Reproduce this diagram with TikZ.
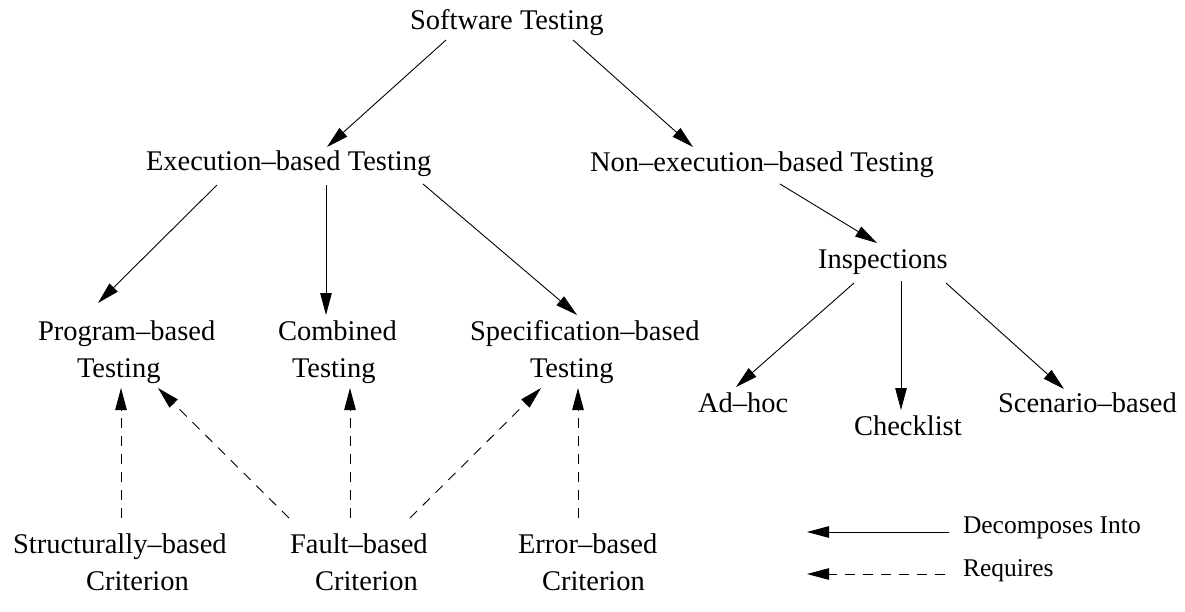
\documentclass[tikz,border=0pt]{standalone}
\usepackage{fontspec}
\setmainfont{Liberation Serif}
\usetikzlibrary{arrows.meta}

% two lines of text, the second indented by #1; baseline is that of the first line
\newcommand{\stackedtext}[3]{\vtop{\hbox{#2}\hbox{\hspace*{#1}#3}}}

\tikzset{
  label/.style={inner sep=0pt, outer sep=0pt, anchor=base west,
    font=\fontsize{28.5}{37}\selectfont},
  legendtext/.style={inner sep=0pt, outer sep=0pt, anchor=base west,
    font=\fontsize{25.5}{30}\selectfont},
  decomp/.style={line width=0.9pt, -{Triangle[length=22pt,width=11.5pt]}},
  requires/.style={decomp, dash pattern=on 10pt off 8pt},
}

\begin{document}
\begin{tikzpicture}[x=1pt, y=-1pt]
  \useasboundingbox (0,0) rectangle (1185,611);

  % hierarchy labels
  \node[label] (st)    at (410,29)  {Software Testing};
  \node[label] (ebt)   at (146,170) {Execution--based Testing};
  \node[label] (nebt)  at (590,171) {Non--execution--based Testing};
  \node[label] (insp)  at (818,268) {Inspections};
  \node[label] (pbt)   at (38,340)  {\stackedtext{39pt}{Program--based}{Testing}};
  \node[label] (comb)  at (278,340) {\stackedtext{14pt}{Combined}{Testing}};
  \node[label] (spec)  at (470,340) {\stackedtext{60pt}{Specification--based}{Testing}};
  \node[label] (adhoc) at (698,412) {Ad--hoc};
  \node[label] (check) at (854,435) {Checklist};
  \node[label] (scen)  at (998,412) {Scenario--based};
  \node[label] (struct) at (13,553) {\stackedtext{73pt}{Structurally--based}{Criterion}};
  \node[label] (fault)  at (290,553) {\stackedtext{25pt}{Fault--based}{Criterion}};
  \node[label] (error)  at (518,553) {\stackedtext{24pt}{Error--based}{Criterion}};

  % decomposition arrows
  \draw[decomp] ([shift={(36,11)}]st.base west)    -- ([shift={(181,-23)}]ebt.base west);
  \draw[decomp] ([shift={(163,11)}]st.base west)   -- ([shift={(103,-24)}]nebt.base west);
  \draw[decomp] ([shift={(71,15)}]ebt.base west)   -- ([shift={(60,-37)}]pbt.base west);
  \draw[decomp] ([shift={(180,15)}]ebt.base west)  -- ([shift={(48,-25)}]comb.base west);
  \draw[decomp] ([shift={(277,14)}]ebt.base west)  -- ([shift={(107,-25)}]spec.base west);
  \draw[decomp] ([shift={(190,13)}]nebt.base west) -- ([shift={(59,-25)}]insp.base west);
  \draw[decomp] ([shift={(36,15)}]insp.base west)  -- ([shift={(38,-25)}]adhoc.base west);
  \draw[decomp] ([shift={(83,13)}]insp.base west)  -- ([shift={(47,-25)}]check.base west);
  \draw[decomp] ([shift={(128,15)}]insp.base west) -- ([shift={(66,-23)}]scen.base west);

  % requirement arrows
  \draw[requires] ([shift={(108,-35)}]struct.base west) -- ([shift={(83,48)}]pbt.base west);
  \draw[requires] ([shift={(-1,-35)}]fault.base west)   -- ([shift={(120,48)}]pbt.base west);
  \draw[requires] ([shift={(60,-35)}]fault.base west)   -- ([shift={(72,48)}]comb.base west);
  \draw[requires] ([shift={(120,-35)}]fault.base west)  -- ([shift={(71,48)}]spec.base west);
  \draw[requires] ([shift={(60,-35)}]error.base west)   -- ([shift={(108,48)}]spec.base west);

  % legend
  \coordinate (ldecompA) at (949,532);
  \coordinate (ldecompB) at (807,532);
  \coordinate (lreqA) at (945,574);
  \coordinate (lreqB) at (807,574);
  \draw[decomp] (ldecompA) -- (ldecompB);
  \draw[requires] (lreqA) -- (lreqB);
  \node[legendtext] (ldecomp) at (963,533) {Decomposes Into};
  \node[legendtext] (lreq)    at (963,576) {Requires};
\end{tikzpicture}
\end{document}
